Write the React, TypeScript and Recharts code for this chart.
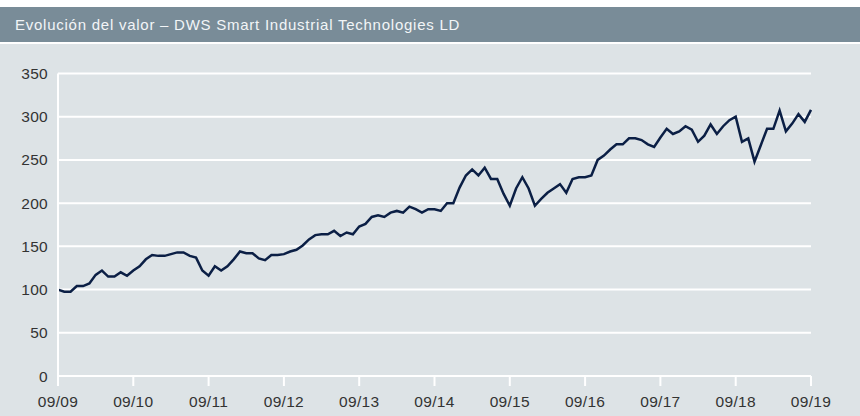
import { LineChart, Line, XAxis, YAxis, CartesianGrid } from "recharts";

// monthly index values, 09/2009 .. 09/2019 (121 points)
const values = [
  100, 97.5, 97.5, 104, 104, 107, 117, 122, 115, 115, 120, 116,
  122, 127, 135, 140, 139, 139, 141, 143, 143, 139, 137, 122,
  116, 127, 122, 127, 135, 144, 142, 142, 136, 134, 140, 140,
  141, 144, 146, 151, 158, 163, 164, 164, 168, 162, 166, 164,
  173, 176, 184, 186, 184, 189, 191, 189, 196, 193, 189, 193,
  193, 191, 200, 200, 218, 232, 239, 232, 241, 228, 228, 211,
  197, 217, 230, 217, 197, 205, 212, 217, 222, 212, 228, 230,
  230, 232, 250, 255, 262, 268, 268, 275, 275, 273, 268, 265,
  276, 286, 280, 283, 289, 285, 271, 278, 291, 280, 289, 296,
  300, 271, 275, 248, 267, 286, 286, 307, 283, 292, 303, 294,
  308,
];

const yearLabels = ["09/09", "09/10", "09/11", "09/12", "09/13", "09/14", "09/15", "09/16", "09/17", "09/18", "09/19"];
const yTicks = [0, 50, 100, 150, 200, 250, 300, 350];

const title = "Evolución del valor – DWS Smart Industrial Technologies LD";

const data = values.map((v, i) => ({ m: i, value: v }));
const xTicks = yearLabels.map((_, i) => i * 12);

const font = "'Liberation Sans', Arial, sans-serif";
const tickStyle = { fill: "#333333", fontSize: 15.5, fontFamily: font, letterSpacing: 0.3 };

export default function App() {
  return (
    <div style={{ position: "absolute", left: 0, top: 0, width: 860, height: 416, fontFamily: font, background: "#fff" }}>
      <div
        style={{
          position: "absolute",
          left: 0,
          top: 7,
          width: 860,
          height: 35,
          background: "#798c98",
          color: "#f2f5f7",
          fontSize: 15,
          letterSpacing: 0.75,
          lineHeight: "35px",
          paddingLeft: 15,
          boxSizing: "border-box",
        }}
      >
        {title}
      </div>
      <div style={{ position: "absolute", left: 0, top: 44, width: 860, height: 372, background: "#dde3e6" }}>
        <LineChart width={860} height={372} data={data} margin={{ top: 29.5, right: 49, bottom: 0, left: 0 }}>
          <CartesianGrid vertical={false} stroke="#ffffff" strokeWidth={2} />
          <XAxis
            dataKey="m"
            type="number"
            domain={[0, 120]}
            ticks={xTicks}
            tickFormatter={(v) => yearLabels[v / 12]}
            height={40}
            axisLine={{ stroke: "#ffffff", strokeWidth: 2 }}
            tickLine={{ stroke: "#ffffff", strokeWidth: 2 }}
            tickSize={10}
            tickMargin={10}
            tick={tickStyle}
            interval={0}
          />
          <YAxis
            domain={[0, 350]}
            ticks={yTicks}
            width={58}
            axisLine={{ stroke: "#ffffff", strokeWidth: 2 }}
            tickLine={false}
            tickSize={0}
            tickMargin={10}
            tick={tickStyle}
            interval={0}
          />
          <Line
            type="linear"
            dataKey="value"
            stroke="#0b1f45"
            strokeWidth={2.5}
            dot={false}
            isAnimationActive={false}
          />
        </LineChart>
      </div>
    </div>
  );
}
